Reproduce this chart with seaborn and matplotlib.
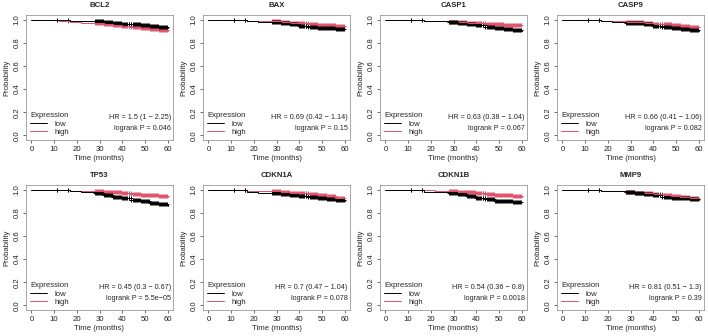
"""
Kaplan-Meier overall survival panels (low vs high expression) for 8 genes.
Values read off the reference figure.
"""

import numpy as np
import pandas as pd
import matplotlib
matplotlib.use("Agg")
import matplotlib.pyplot as plt
import seaborn as sns
from matplotlib.lines import Line2D

# ── Data ──────────────────────────────────────────────────────────────────
GENES = ["BCL2", "BAX", "CASP1", "CASP9", "TP53", "CDKN1A", "CDKN1B", "MMP9"]

# step times shared by every curve (months)
STEP_TIMES = [0, 6, 12, 17, 22, 28, 32, 36, 40, 44, 48, 52, 56, 60]

# survival probability at each step time
SURV_LOW = {
    "BCL2":   [1, 0.997, 0.995, 0.990, 0.988, 0.985, 0.978, 0.972, 0.965, 0.958, 0.952, 0.945, 0.938, 0.932],
    "BAX":    [1, 0.998, 0.995, 0.990, 0.983, 0.978, 0.968, 0.958, 0.948, 0.940, 0.932, 0.925, 0.920, 0.915],
    "CASP1":  [1, 0.998, 0.995, 0.990, 0.985, 0.978, 0.970, 0.960, 0.950, 0.940, 0.930, 0.920, 0.912, 0.905],
    "CASP9":  [1, 0.998, 0.995, 0.988, 0.982, 0.975, 0.968, 0.958, 0.948, 0.937, 0.927, 0.918, 0.910, 0.905],
    "TP53":   [1, 0.998, 0.995, 0.990, 0.980, 0.970, 0.955, 0.940, 0.925, 0.910, 0.898, 0.885, 0.872, 0.862],
    "CDKN1A": [1, 0.998, 0.995, 0.980, 0.975, 0.972, 0.965, 0.955, 0.945, 0.935, 0.925, 0.915, 0.907, 0.900],
    "CDKN1B": [1, 0.998, 0.995, 0.982, 0.978, 0.972, 0.962, 0.948, 0.930, 0.915, 0.905, 0.898, 0.893, 0.890],
    "MMP9":   [1, 0.998, 0.995, 0.990, 0.985, 0.978, 0.970, 0.960, 0.950, 0.940, 0.932, 0.925, 0.918, 0.913],
}
SURV_HIGH = {
    "BCL2":   [1, 0.997, 0.990, 0.982, 0.975, 0.970, 0.962, 0.955, 0.945, 0.935, 0.927, 0.918, 0.910, 0.903],
    "BAX":    [1, 0.998, 0.995, 0.990, 0.988, 0.986, 0.982, 0.975, 0.968, 0.962, 0.955, 0.950, 0.945, 0.940],
    "CASP1":  [1, 0.998, 0.995, 0.990, 0.986, 0.982, 0.978, 0.972, 0.967, 0.962, 0.958, 0.954, 0.952, 0.950],
    "CASP9":  [1, 0.998, 0.995, 0.990, 0.986, 0.982, 0.978, 0.972, 0.966, 0.958, 0.952, 0.946, 0.940, 0.935],
    "TP53":   [1, 0.998, 0.995, 0.992, 0.990, 0.988, 0.983, 0.977, 0.970, 0.963, 0.957, 0.950, 0.945, 0.940],
    "CDKN1A": [1, 0.998, 0.995, 0.992, 0.990, 0.988, 0.982, 0.975, 0.967, 0.958, 0.950, 0.942, 0.932, 0.925],
    "CDKN1B": [1, 0.998, 0.995, 0.993, 0.990, 0.987, 0.983, 0.977, 0.970, 0.963, 0.957, 0.950, 0.945, 0.940],
    "MMP9":   [1, 0.998, 0.995, 0.990, 0.985, 0.980, 0.975, 0.967, 0.958, 0.950, 0.943, 0.936, 0.930, 0.925],
}

# censoring times (months) - a few early, then dense after 28 months
CENSOR_TIMES = [
    11.3, 16.1,
    28.1, 28.4, 28.8, 29.3, 29.7, 30.2, 30.6, 31.1, 31.5, 32.0, 32.4, 32.9,
    33.3, 33.8, 34.2, 34.7, 35.1, 35.6, 36.0, 36.5, 36.9, 37.4, 37.8, 38.3,
    38.7, 39.2, 39.6, 40.1, 40.5, 41.0, 41.4, 41.9, 42.3, 42.8, 43.2, 43.7,
    44.1, 44.6, 45.0, 45.5, 45.9, 46.4, 46.8, 47.3, 47.7, 48.2, 48.6, 49.1,
    49.5, 50.0, 50.4, 50.9, 51.3, 51.8, 52.2, 52.7, 53.1, 53.6, 54.0, 54.5,
    54.9, 55.4, 55.8, 56.3, 56.7, 57.2, 57.6, 58.1, 58.5, 59.0, 59.4, 59.8,
]

HR_TEXT = [
    "HR = 1.5 (1 \u2212 2.25)",
    "HR = 0.69 (0.42 \u2212 1.14)",
    "HR = 0.63 (0.38 \u2212 1.04)",
    "HR = 0.66 (0.41 \u2212 1.06)",
    "HR = 0.45 (0.3 \u2212 0.67)",
    "HR = 0.7 (0.47 \u2212 1.04)",
    "HR = 0.54 (0.36 \u2212 0.8)",
    "HR = 0.81 (0.51 \u2212 1.3)",
]
LOGRANK_P = ["0.046", "0.15", "0.067", "0.082", "5.5e\u221205", "0.078", "0.0018", "0.39"]

# ── Style ─────────────────────────────────────────────────────────────────
sns.set_theme(style="ticks")
plt.rcParams["font.family"] = ["Liberation Sans", "DejaVu Sans"]

COL_LOW = "#000000"
COL_HIGH = "#DF536B"
FS = 5.6


def step_value(times, surv, t):
    idx = np.searchsorted(times, t, side="right") - 1
    return np.asarray(surv)[idx]


fig = plt.figure(figsize=(7.08, 3.36), dpi=100)

ax_w = 147 / 708
ax_h = 125 / 336
row_bottom = [1 - 140 / 336, 1 - 310 / 336]

for i, gene in enumerate(GENES):
    r, c = divmod(i, 4)
    left = (c * 177 + 26) / 708
    ax = fig.add_axes([left, row_bottom[r], ax_w, ax_h])

    # high first, so the black (low) curve sits on top like in the original
    for surv, col in [(SURV_HIGH[gene], COL_HIGH), (SURV_LOW[gene], COL_LOW)]:
        curve = pd.DataFrame({"t": STEP_TIMES, "s": surv})
        sns.lineplot(data=curve, x="t", y="s", ax=ax, color=col,
                     drawstyle="steps-post", linewidth=0.7, legend=False)
        cens = pd.DataFrame({
            "t": CENSOR_TIMES,
            "s": step_value(STEP_TIMES, surv, CENSOR_TIMES),
        })
        sns.scatterplot(data=cens, x="t", y="s", ax=ax, color=col,
                        marker="+", s=10, linewidth=0.7, legend=False)

    ax.set_xlim(-2.4, 62.4)
    ax.set_ylim(-0.04, 1.04)
    ax.set_xticks(range(0, 61, 10))
    ax.set_yticks([0, 0.2, 0.4, 0.6, 0.8, 1.0])
    ax.set_yticklabels(["0.0", "0.2", "0.4", "0.6", "0.8", "1.0"],
                       rotation=90, va="center")
    ax.tick_params(labelsize=FS, length=2.5, width=0.5, pad=1.5,
                   colors="#333333", labelcolor="#222222")
    for sp in ax.spines.values():
        sp.set_color("#999999")
        sp.set_linewidth(0.6)

    ax.set_xlabel("Time (months)", fontsize=FS, labelpad=2)
    ax.set_ylabel("Probability", fontsize=FS, labelpad=2)
    ax.set_title(gene, fontsize=FS, fontweight="bold", pad=6)

    handles = [Line2D([], [], color=COL_LOW, lw=0.7),
               Line2D([], [], color=COL_HIGH, lw=0.7)]
    ax.legend(handles, ["low", "high"], title="Expression",
              loc="lower left", frameon=False, fontsize=FS,
              title_fontsize=FS, alignment="left", handlelength=2.2,
              borderaxespad=0.3, labelspacing=0.15, borderpad=0.2,
              handletextpad=1.0)

    ax.text(0.985, 0.18, HR_TEXT[i], transform=ax.transAxes,
            ha="right", va="center", fontsize=5.2)
    ax.text(0.985, 0.095, f"logrank P = {LOGRANK_P[i]}", transform=ax.transAxes,
            ha="right", va="center", fontsize=5.2)

fig.savefig("out.png", dpi=100)
